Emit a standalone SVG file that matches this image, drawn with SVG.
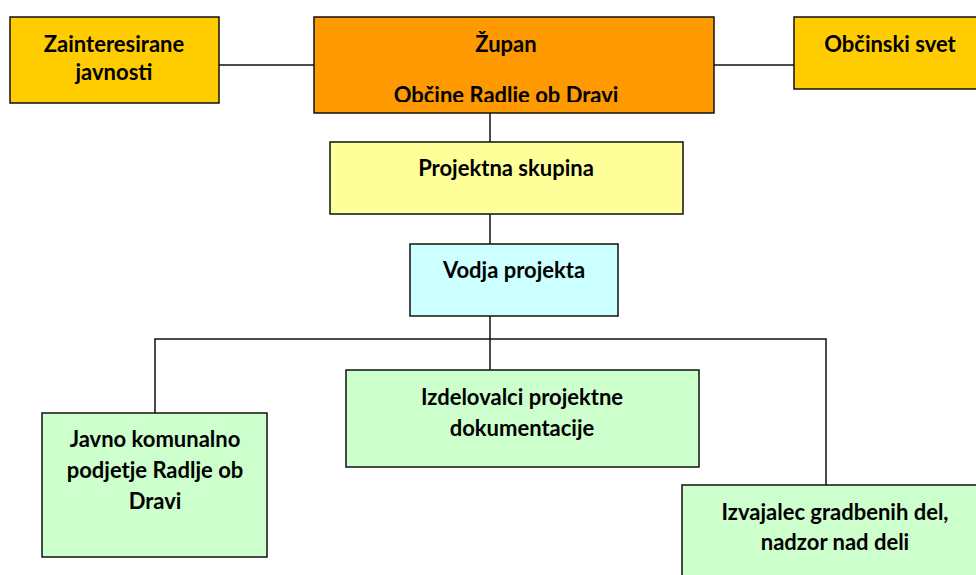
<svg xmlns="http://www.w3.org/2000/svg" width="976" height="575" viewBox="0 0 976 575">
<style>
rect{stroke:#111;stroke-width:1.5}
text{font-family:Lato,"Liberation Sans",sans-serif;font-weight:bold;font-size:22px;fill:#000;text-anchor:middle}
.c{stroke:#111;stroke-width:1.5;fill:none}
</style>
<defs><clipPath id="zc"><rect x="314" y="17" width="400" height="85"/></clipPath></defs>
<rect width="976" height="575" fill="#fff" style="stroke:none"/>
<g id="connectors">
<line class="c" x1="219" y1="65" x2="314" y2="65"/>
<line class="c" x1="714" y1="65" x2="794" y2="65"/>
<line class="c" x1="490" y1="113" x2="490" y2="142"/>
<line class="c" x1="490" y1="214" x2="490" y2="244"/>
<line class="c" x1="490" y1="316" x2="490" y2="370"/>
<polyline class="c" points="155,413 155,339 826,339 826,485"/>
</g>
<g id="zainteresirane"><rect x="10" y="17" width="209" height="86" fill="#FFCC00"/><text x="114" y="52">Zainteresirane</text><text x="114" y="80">javnosti</text></g>
<g id="zupan"><rect x="314" y="17" width="400" height="96" fill="#FF9900"/><text x="506" y="52">Župan</text><text x="506" y="103" clip-path="url(#zc)">Občine Radlje ob Dravi</text></g>
<g id="obcinski"><rect x="794" y="17" width="190" height="72" fill="#FFCC00"/><text x="890" y="52">Občinski svet</text></g>
<g id="projektna"><rect x="330" y="142" width="353" height="72" fill="#FFFF99"/><text x="506" y="176">Projektna skupina</text></g>
<g id="vodja"><rect x="410" y="244" width="208" height="72" fill="#CCFFFF"/><text x="514" y="278">Vodja projekta</text></g>
<g id="javno"><rect x="42" y="413" width="225" height="144" fill="#CCFFCC"/><text x="155" y="447">Javno komunalno</text><text x="155" y="478">podjetje Radlje ob</text><text x="155" y="509">Dravi</text></g>
<g id="izdelovalci"><rect x="346" y="370" width="353" height="97" fill="#CCFFCC"/><text x="522" y="405">Izdelovalci projektne</text><text x="522" y="436">dokumentacije</text></g>
<g id="izvajalec"><rect x="682" y="485" width="310" height="100" fill="#CCFFCC"/><text x="835" y="520">Izvajalec gradbenih del,</text><text x="835" y="550">nadzor nad deli</text></g>
</svg>
